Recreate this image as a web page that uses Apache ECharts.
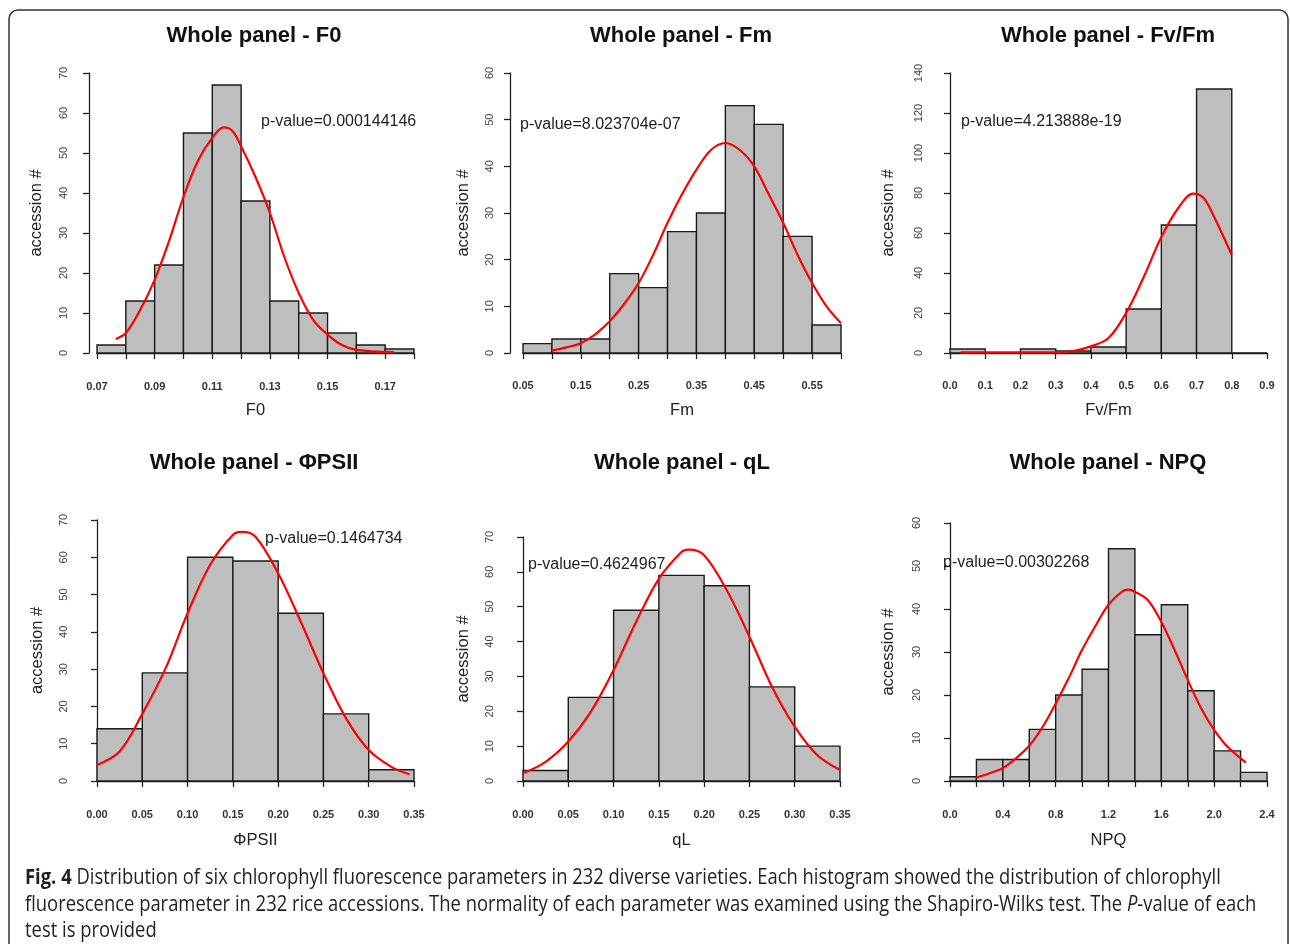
<!DOCTYPE html>
<html>
<head>
<meta charset="utf-8">
<script src="https://cdn.jsdelivr.net/npm/echarts@6/dist/echarts.min.js"></script>
<style>
  html, body { margin: 0; padding: 0; background: #fff; }
  #chart { width: 1290px; height: 944px; }
</style>
</head>
<body>
<div id="chart"></div>
<script>
// ---- data ----
var f0Breaks = [0.07, 0.08, 0.09, 0.10, 0.11, 0.12, 0.13, 0.14, 0.15, 0.16, 0.17, 0.18];
var f0Counts = [2, 13, 22, 55, 67, 38, 13, 10, 5, 2, 1];
var f0Curve = [[0.0765, 3.5], [0.08, 5], [0.085, 10.8], [0.09, 18.3], [0.095, 28], [0.10, 39], [0.105, 48],
    [0.11, 53.8], [0.114, 56.4], [0.117, 55.5], [0.12, 51.7], [0.125, 44], [0.13, 35], [0.135, 24], [0.14, 15],
    [0.145, 8.3], [0.15, 4.6], [0.155, 2], [0.16, 0.8], [0.173, 0.2]];
var f0Labels = ['0.07', '0.09', '0.11', '0.13', '0.15', '0.17'];

var fmBreaks = [0.05, 0.10, 0.15, 0.20, 0.25, 0.30, 0.35, 0.40, 0.45, 0.50, 0.55, 0.60];
var fmCounts = [2, 3, 3, 17, 14, 26, 30, 53, 49, 25, 6];
var fmCurve = [[0.10, 0.5], [0.125, 1.2], [0.15, 2.1], [0.175, 4], [0.20, 6.8], [0.225, 10.5], [0.25, 15],
    [0.275, 21], [0.30, 27.9], [0.325, 34], [0.35, 39.3], [0.375, 43.5], [0.40, 45], [0.425, 43.5], [0.45, 40],
    [0.475, 34], [0.50, 27.9], [0.525, 21], [0.55, 15], [0.575, 10], [0.60, 6.4]];
var fmLabels = ['0.05', '0.15', '0.25', '0.35', '0.45', '0.55'];

var fvBreaks = [0.0, 0.1, 0.2, 0.3, 0.4, 0.5, 0.6, 0.7, 0.8, 0.9];
var fvCounts = [2, 0, 2, 1, 3, 22, 64, 132, 0];
var fvCurve = [[0.03, 0.3], [0.1, 0.3], [0.2, 0.3], [0.3, 0.3], [0.35, 1], [0.4, 3.3], [0.45, 7.5], [0.5, 20],
    [0.55, 38], [0.6, 58], [0.65, 73], [0.69, 79.7], [0.72, 77.5], [0.75, 68], [0.80, 49]];
var fvLabels = ['0.0', '0.1', '0.2', '0.3', '0.4', '0.5', '0.6', '0.7', '0.8', '0.9'];

var psBreaks = [0.00, 0.05, 0.10, 0.15, 0.20, 0.25, 0.30, 0.35];
var psCounts = [14, 29, 60, 59, 45, 18, 3];
var psCurve = [[0.0, 4.3], [0.025, 7.9], [0.05, 18], [0.075, 29.8], [0.10, 45], [0.125, 58], [0.15, 66],
    [0.16, 66.8], [0.175, 65.5], [0.20, 55.7], [0.225, 42.7], [0.25, 28.9], [0.275, 16.8], [0.30, 8.3],
    [0.325, 3.8], [0.345, 1.8]];
var psLabels = ['0.00', '0.05', '0.10', '0.15', '0.20', '0.25', '0.30', '0.35'];

var qlBreaks = [0.00, 0.05, 0.10, 0.15, 0.20, 0.25, 0.30, 0.35];
var qlCounts = [3, 24, 49, 59, 56, 27, 10];
var qlCurve = [[0.0, 2.2], [0.025, 5.5], [0.05, 11.3], [0.075, 19.9], [0.10, 31.8], [0.125, 45.7], [0.15, 58],
    [0.175, 65.7], [0.183, 66.4], [0.20, 64.8], [0.225, 54.7], [0.25, 41.4], [0.275, 27], [0.30, 15.6],
    [0.325, 7.4], [0.35, 3.2]];
var qlLabels = ['0.00', '0.05', '0.10', '0.15', '0.20', '0.25', '0.30', '0.35'];

var npqBreaks = [0.0, 0.2, 0.4, 0.6, 0.8, 1.0, 1.2, 1.4, 1.6, 1.8, 2.0, 2.2, 2.4];
var npqCounts = [1, 5, 5, 12, 20, 26, 54, 34, 41, 21, 7, 2];
var npqCurve = [[0.2, 0.8], [0.3, 1.8], [0.4, 3], [0.5, 5.3], [0.6, 8.2], [0.7, 12.5], [0.8, 18], [0.9, 24],
    [1.0, 30.5], [1.1, 36], [1.2, 41], [1.3, 44], [1.35, 44.5], [1.4, 44], [1.5, 42], [1.6, 37], [1.7, 30.5],
    [1.8, 23.5], [1.9, 17], [2.0, 11.9], [2.1, 8], [2.24, 4.3]];
var npqLabels = ['0.0', '0.4', '0.8', '1.2', '1.6', '2.0', '2.4'];

var titles = ['Whole panel - F0', 'Whole panel - Fm', 'Whole panel - Fv/Fm',
    'Whole panel - \u03A6PSII', 'Whole panel - qL', 'Whole panel - NPQ'];
var xNames = ['F0', 'Fm', 'Fv/Fm', '\u03A6PSII', 'qL', 'NPQ'];
var pValues = ['p-value=0.000144146', 'p-value=8.023704e-07', 'p-value=4.213888e-19',
    'p-value=0.1464734', 'p-value=0.4624967', 'p-value=0.00302268'];
var yMax = [70, 60, 140, 70, 70, 60];
var yStep = [10, 10, 20, 10, 10, 10];

var panels = [
    { breaks: f0Breaks, counts: f0Counts, curve: f0Curve, labels: f0Labels, dec: 2 },
    { breaks: fmBreaks, counts: fmCounts, curve: fmCurve, labels: fmLabels, dec: 2 },
    { breaks: fvBreaks, counts: fvCounts, curve: fvCurve, labels: fvLabels, dec: 1 },
    { breaks: psBreaks, counts: psCounts, curve: psCurve, labels: psLabels, dec: 2 },
    { breaks: qlBreaks, counts: qlCounts, curve: qlCurve, labels: qlLabels, dec: 2 },
    { breaks: npqBreaks, counts: npqCounts, curve: npqCurve, labels: npqLabels, dec: 1 }
];

// ---- layout (pixels) ----
var grids = [
    { left: 97, top: 73, width: 317, height: 280 },
    { left: 523, top: 73, width: 318, height: 280 },
    { left: 950, top: 73, width: 317, height: 280 },
    { left: 97, top: 520, width: 317, height: 261 },
    { left: 523, top: 537, width: 317, height: 244 },
    { left: 950, top: 523, width: 317, height: 258 }
];
var yOffset = [8, 13, 13, 18, 13, 13];
var yLabelMargin = [20, 14.5, 13, 9.5, 14.5, 14.5];
var yNameGap = [44, 38.5, 40, 33.5, 38.5, 40];
var xOffset = [13, 12, 12, 13, 13, 13];
var xNameGap = [36, 37, 37, 38, 38, 38];
var titlePos = [[254, 36], [681, 36], [1108, 36], [254, 463], [682, 463], [1108, 463]];
var pPos = [[261, 122], [520, 125], [961, 122], [265, 539], [528, 565], [943, 563]];

var FONT = 'Liberation Sans, Arial, sans-serif';

function renderBar(params, api) {
    var p0 = api.coord([api.value(0), 0]);
    var p1 = api.coord([api.value(1), api.value(2)]);
    return {
        type: 'rect',
        shape: { x: p0[0], y: p1[1], width: p1[0] - p0[0], height: p0[1] - p1[1] },
        style: { fill: '#bebebe', stroke: '#1a1a1a', lineWidth: 1.4 }
    };
}

var option = {
    backgroundColor: '#fff',
    animation: false,
    grid: [], xAxis: [], yAxis: [], series: [], graphic: []
};

panels.forEach(function (p, i) {
    var b = p.breaks;
    option.grid.push(grids[i]);
    option.xAxis.push({
        type: 'value', gridIndex: i,
        min: b[0], max: b[b.length - 1], interval: b[1] - b[0],
        offset: xOffset[i],
        name: xNames[i], nameLocation: 'middle', nameGap: xNameGap[i],
        nameTextStyle: { fontFamily: FONT, fontSize: 16.5, color: '#222' },
        axisLine: { lineStyle: { color: '#222', width: 1.3 } },
        axisTick: { length: 6, lineStyle: { color: '#222', width: 1.3 } },
        axisLabel: {
            margin: 15, fontFamily: FONT, fontSize: 11, fontWeight: 'bold', color: '#333',
            showMinLabel: true, showMaxLabel: true, hideOverlap: false,
            formatter: function (v) {
                var s = v.toFixed(p.dec);
                return p.labels.indexOf(s) >= 0 ? s : '';
            }
        },
        splitLine: { show: false }
    });
    option.yAxis.push({
        type: 'value', gridIndex: i,
        min: 0, max: yMax[i], interval: yStep[i],
        offset: yOffset[i],
        name: 'accession #', nameLocation: 'middle', nameGap: yNameGap[i], nameRotate: 90,
        nameTextStyle: { fontFamily: FONT, fontSize: 16.5, color: '#222' },
        axisLine: { show: true, lineStyle: { color: '#222', width: 1.3 } },
        axisTick: { show: true, length: 6, lineStyle: { color: '#222', width: 1.3 } },
        axisLabel: { rotate: 90, margin: yLabelMargin[i], fontFamily: FONT, fontSize: 11, color: '#444' },
        splitLine: { show: false }
    });
    var bars = [];
    for (var k = 0; k < p.counts.length; k++) {
        bars.push([b[k], b[k + 1], p.counts[k]]);
    }
    option.series.push({
        type: 'custom', xAxisIndex: i, yAxisIndex: i,
        renderItem: renderBar, data: bars,
        encode: { x: [0, 1], y: 2 }, z: 2
    });
    option.series.push({
        type: 'line', xAxisIndex: i, yAxisIndex: i,
        data: p.curve, smooth: 0.35, showSymbol: false,
        lineStyle: { color: '#ff0000', width: 2.2 }, z: 3
    });
    option.graphic.push({
        type: 'text', x: titlePos[i][0], y: titlePos[i][1],
        style: { text: titles[i], font: 'bold 22px ' + FONT, fill: '#111', align: 'center', verticalAlign: 'middle' }
    });
    option.graphic.push({
        type: 'text', x: pPos[i][0], y: pPos[i][1], z: 10,
        style: { text: pValues[i], font: '16px ' + FONT, fill: '#222', align: 'left', verticalAlign: 'middle' }
    });
});

// caption
var capFont = '"Open Sans", sans-serif';
var capSize = 22;
var capLines = [
    '{b|Fig. 4} Distribution of six chlorophyll fluorescence parameters in 232 diverse varieties. Each histogram showed the distribution of chlorophyll',
    'fluorescence parameter in 232 rice accessions. The normality of each parameter was examined using the Shapiro-Wilks test. The {i|P}-value of each',
    'test is provided'
];
// horizontal squeeze so the two long lines end where they do in the figure
var ctx = document.createElement('canvas').getContext('2d');
ctx.font = 'bold ' + capSize + 'px ' + capFont;
var w1 = ctx.measureText('Fig. 4').width;
ctx.font = capSize + 'px ' + capFont;
w1 += ctx.measureText(capLines[0].replace('{b|Fig. 4}', '')).width;
var w2 = ctx.measureText(capLines[1].replace('{i|P}', 'P')).width;
var capScale = Math.min((1227 - 25) / w1, (1257 - 25) / w2);
var capY = [878, 905, 931];
capLines.forEach(function (t, j) {
    option.graphic.push({
        type: 'text', x: 25, y: capY[j], scaleX: capScale,
        style: {
            text: t, fontFamily: capFont, fontSize: capSize, fill: '#231f20', verticalAlign: 'middle',
            rich: {
                b: { fontFamily: capFont, fontSize: capSize, fontWeight: 'bold', fill: '#231f20' },
                i: { fontFamily: capFont, fontSize: capSize, fontStyle: 'italic', fill: '#231f20' }
            }
        }
    });
});

// frame around the figure
option.graphic.push({
    type: 'rect', z: -1,
    shape: { x: 9, y: 10, width: 1279, height: 960, r: 9 },
    style: { fill: 'none', stroke: '#333', lineWidth: 1.5 }
});

echarts.init(document.getElementById('chart')).setOption(option);
</script>
</body>
</html>
